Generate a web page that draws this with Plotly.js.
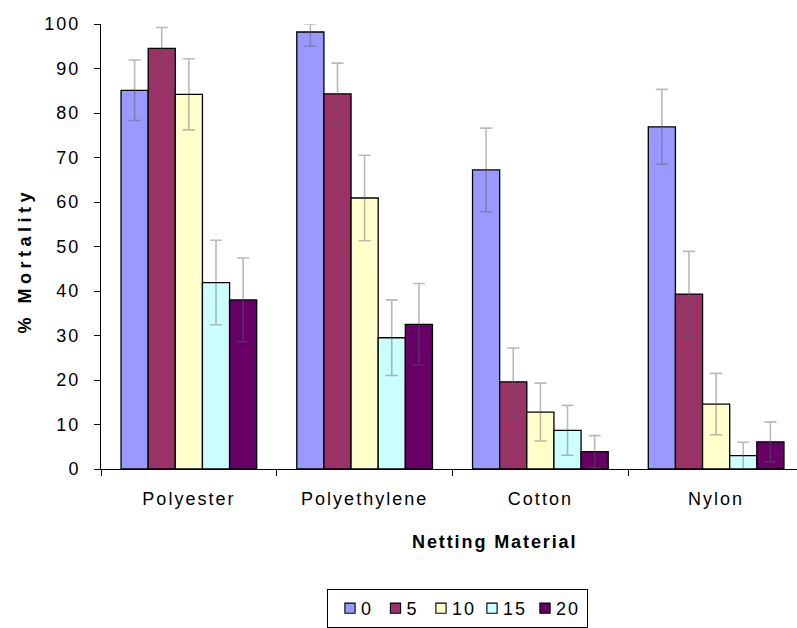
<!DOCTYPE html>
<html>
<head>
<meta charset="utf-8">
<script src="https://cdn.plot.ly/plotly-3.0.1.min.js"></script>
<style>
  html, body { margin: 0; padding: 0; overflow: hidden; background: #fff; }
  #chart { width: 810px; height: 628px; }
  .xtick text, .ytick text, .legendtext { letter-spacing: 2px; }
  .legend g.layers { transform: translate(5px, 0px) scale(0.85); }
  .legend text.legendtext { transform: translate(-7px, 0px); }
</style>
</head>
<body>
<div id="chart"></div>
<script>
// Categories (netting material) and series (legend labels)
const materials = ["Polyester", "Polyethylene", "Cotton", "Nylon"];
const seriesNames = ["0", "5", "10", "15", "20"];

// % Mortality per series, in material order
const mort0  = [85.1, 98.2, 67.2, 76.9];
const mort5  = [94.5, 84.3, 19.6, 39.3];
const mort10 = [84.2, 60.9, 12.8, 14.6];
const mort15 = [41.9, 29.5, 8.7, 3.0];
const mort20 = [38.0, 32.5, 3.9, 6.1];

// Error bar sizes (upper / lower)
const errUp0  = [6.8, 1.8, 9.4, 8.4];
const errDn0  = [6.8, 3.2, 9.4, 8.4];
const err5  = [4.7, 6.9, 7.6, 9.6];
const err10 = [8.0, 9.6, 6.5, 6.9];
const err15 = [9.5, 8.5, 5.6, 3.0];
const err20 = [9.4, 9.2, 3.6, 4.5];

const colors = ["#9999FF", "#993366", "#FFFFCC", "#CCFFFF", "#660066"];
const values = [mort0, mort5, mort10, mort15, mort20];
const errUp = [errUp0, err5, err10, err15, err20];
const errDn = [errDn0, err5, err10, err15, err20];
const legendWidths = [0.5, 0.5, 6, 8, 19];

const traces = seriesNames.map((name, i) => ({
  type: "bar",
  name: name,
  x: materials,
  y: values[i],
  legendwidth: legendWidths[i],
  marker: { color: colors[i], line: { color: "#000000", width: 1.3 } },
  error_y: {
    type: "data", symmetric: false,
    array: errUp[i], arrayminus: errDn[i],
    color: "rgba(90,90,90,0.42)", thickness: 1.6, width: 6
  }
}));

const font = "'Liberation Sans', Arial, sans-serif";
const L = 101, R = 6, T = 24, B = 159, W = 810, H = 628;
const PW = W - L - R, PH = H - T - B;
const px2x = p => (p - L) / PW;
const py2y = p => (H - B - p) / PH;

const layout = {
  width: W, height: H,
  margin: { l: L, r: R, t: T, b: B, pad: 0, autoexpand: false },
  paper_bgcolor: "#ffffff", plot_bgcolor: "#ffffff",
  font: { family: font, size: 18, color: "#000000" },
  barmode: "group", bargap: 0.228, bargroupgap: 0,
  showlegend: true,
  legend: {
    orientation: "h", xref: "paper", yref: "paper",
    x: px2x(327), xanchor: "left", y: py2y(589), yanchor: "top",
    bordercolor: "#000000", borderwidth: 1, bgcolor: "#ffffff",
    font: { family: font, size: 18, color: "#000000" },
    traceorder: "normal"
  },
  xaxis: {
    type: "category", showline: true, linecolor: "#000000", linewidth: 1,
    ticks: "outside", ticklen: 6, tickcolor: "#000000", tickwidth: 1,
    tickson: "boundaries", showgrid: false, zeroline: false,
    tickfont: { family: font, size: 18, color: "#000000" },
    ticklabelstandoff: 13
  },
  yaxis: {
    range: [0, 100], dtick: 10, tick0: 0, showline: true, linecolor: "#000000", linewidth: 1,
    ticks: "outside", ticklen: 6, tickcolor: "#000000", tickwidth: 1,
    showgrid: false, zeroline: false,
    tickfont: { family: font, size: 18, color: "#000000" },
    ticklabelstandoff: 10
  },
  annotations: [
    {
      text: '<span style="letter-spacing:1.9px"><b>Netting Material</b></span>',
      xref: "paper", yref: "paper", x: px2x(494), y: py2y(542),
      xanchor: "center", yanchor: "middle", showarrow: false,
      font: { family: font, size: 18, color: "#000000" }
    },
    {
      text: '<span style="letter-spacing:4.5px"><b>% Mortality</b></span>',
      xref: "paper", yref: "paper", x: px2x(24), y: py2y(260.5),
      xanchor: "center", yanchor: "middle", showarrow: false, textangle: -90,
      font: { family: font, size: 18, color: "#000000" }
    }
  ]
};

Plotly.newPlot("chart", traces, layout, { displayModeBar: false, staticPlot: true });
</script>
</body>
</html>
